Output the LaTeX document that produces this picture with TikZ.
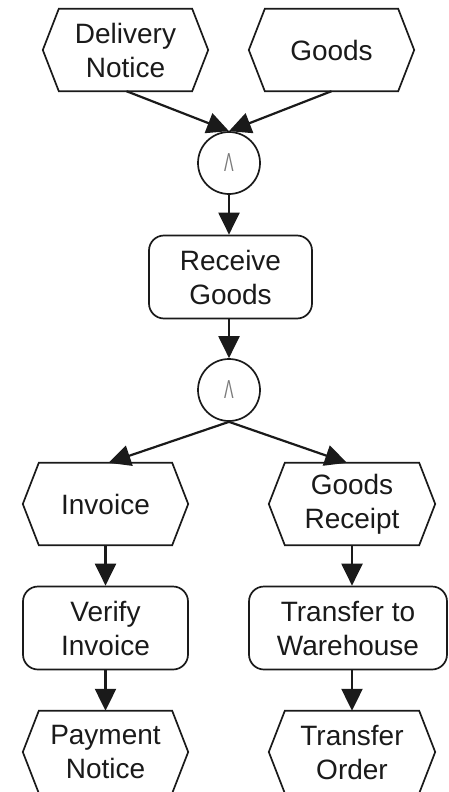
\documentclass[tikz,border=0pt]{standalone}
\usepackage{fontspec}
\setmainfont{Liberation Sans}
\usetikzlibrary{arrows.meta}
\definecolor{ink}{HTML}{1A1A1A}
\definecolor{opgray}{HTML}{7A7A7A}
\tikzset{
  base/.style={inner sep=0pt, align=center, text=ink,
    font=\fontsize{28}{34}\selectfont},
  % event: hexagon with pointed left and right sides
  evt/.style={base, minimum width=165pt, minimum height=82pt,
    append after command={\pgfextra{\draw[line width=1.7pt, ink, line join=miter]
      (\tikzlastnode.west) -- ([xshift=16pt]\tikzlastnode.north west)
      -- ([xshift=-16pt]\tikzlastnode.north east) -- (\tikzlastnode.east)
      -- ([xshift=-16pt]\tikzlastnode.south east)
      -- ([xshift=16pt]\tikzlastnode.south west) -- cycle;}}},
  % function: rounded box
  fn/.style={base, draw=ink, line width=1.7pt, rounded corners=15pt,
    minimum width=165pt, minimum height=83pt},
  % AND connector
  op/.style={circle, draw=ink, line width=1.7pt, minimum size=62pt, inner sep=0pt,
    text=opgray, font=\fontsize{26}{26}\selectfont},
  flow/.style={draw=ink, line width=2.2pt, -{Triangle[length=22pt,width=21pt]}}
}
\begin{document}
\begin{tikzpicture}[x=1pt,y=-1pt]
\useasboundingbox (0,0) rectangle (449,792);

\node[evt] (dn) at (125.5,50) {Delivery\\Notice};
\node[evt] (gd) at (331.5,50) {Goods};
\node[op] (and1) at (229,163) {\scalebox{0.55}[1]{Λ}};
\node[fn, minimum width=163pt] (rg) at (230.5,277) {Receive\\Goods};
\node[op] (and2) at (229,390) {\scalebox{0.55}[1]{Λ}};
\node[evt] (inv) at (105.5,504) {Invoice};
\node[evt, minimum width=166pt] (grc) at (352,504) {Goods\\Receipt};
\node[fn] (vi) at (105.5,628) {Verify\\Invoice};
\node[fn, minimum width=198pt] (tw) at (348,628) {Transfer to\\Warehouse};
\node[evt] (pn) at (105.5,752) {Payment\\Notice};
\node[evt, minimum width=166pt] (to) at (352,752) {Transfer\\Order};

\draw[flow] ([xshift=1pt]dn.south) -- (and1.north);
\draw[flow] (gd.south) -- (and1.north);
\draw[flow] (and1.south) -- (and1.south |- rg.north);
\draw[flow] (and1.south |- rg.south) -- (and2.north);
\draw[flow] (and2.south) -- ([xshift=3pt]inv.north);
\draw[flow] (and2.south) -- ([xshift=-5pt]grc.north);
\draw[flow] (inv.south) -- (vi.north);
\draw[flow] (vi.south) -- (pn.north);
\draw[flow] (grc.south) -- (grc.south |- tw.north);
\draw[flow] (grc.south |- tw.south) -- (to.north);
\end{tikzpicture}
\end{document}
